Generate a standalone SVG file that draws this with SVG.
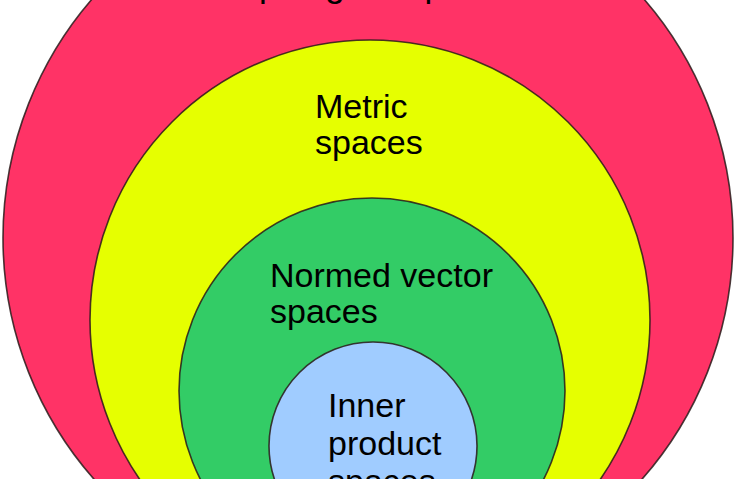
<svg xmlns="http://www.w3.org/2000/svg" width="736" height="479" viewBox="0 0 736 479">
<style>
  .ring { stroke: #2a1a1a; stroke-width: 1.6; stroke-opacity: 0.85; }
  .lbl { font-family: "Liberation Sans", Arial, sans-serif; font-size: 34px; fill: #000; }
</style>
<rect width="736" height="479" fill="#ffffff"/>
<g id="topological">
  <circle class="ring" cx="368" cy="238" r="365" fill="#FF3366"/>
  <text class="lbl" x="370" y="-3" text-anchor="middle" style="font-size:35px">Topological spaces</text>
</g>
<g id="metric">
  <circle class="ring" cx="370" cy="320" r="280" fill="#E6FF00"/>
  <text class="lbl" x="315" y="118">Metric</text>
  <text class="lbl" x="315" y="154">spaces</text>
</g>
<g id="normed">
  <circle class="ring" cx="372" cy="391" r="193" fill="#33CC66"/>
  <text class="lbl" x="270" y="287">Normed vector</text>
  <text class="lbl" x="270" y="323">spaces</text>
</g>
<g id="inner">
  <circle class="ring" cx="373" cy="446" r="104" fill="#A0CCFF"/>
  <text class="lbl" x="328" y="417">Inner</text>
  <text class="lbl" x="328" y="455">product</text>
  <text class="lbl" x="328" y="493">spaces</text>
</g>
<g id="connectors"/>
</svg>
